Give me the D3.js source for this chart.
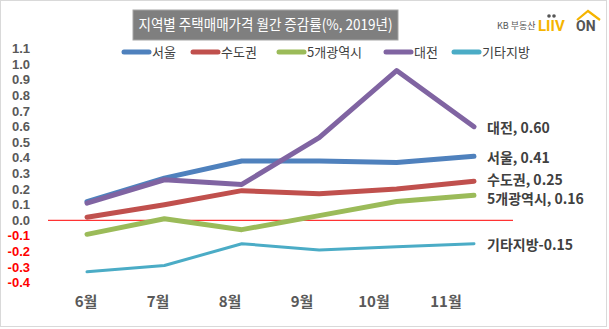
<!DOCTYPE html>
<html>
<head>
<meta charset="utf-8">
<script src="https://cdn.jsdelivr.net/npm/d3@7"></script>
<style>
  html, body { margin: 0; padding: 0; background: #fff; }
  svg { display: block; font-family: "Noto Sans CJK KR", "Noto Sans", sans-serif; }
</style>
</head>
<body>
<div id="chart"></div>
<script>

// months and monthly change (%) per region
var months = ["6월", "7월", "8월", "9월", "10월", "11월"];
var seoul = [0.12, 0.27, 0.38, 0.38, 0.37, 0.41];
var sudogwon = [0.02, 0.10, 0.19, 0.17, 0.20, 0.25];
var metro5 = [-0.09, 0.01, -0.06, 0.03, 0.12, 0.16];
var daejeon = [0.11, 0.26, 0.23, 0.53, 0.96, 0.60];
var others = [-0.33, -0.29, -0.15, -0.19, -0.17, -0.15];

var seriesNames = ["서울", "수도권", "5개광역시", "대전", "기타지방"];
var yTicks = [1.1, 1.0, 0.9, 0.8, 0.7, 0.6, 0.5, 0.4, 0.3, 0.2, 0.1, 0.0, -0.1, -0.2, -0.3, -0.4];

var width = 609, height = 329;

var series = [
  {name: seriesNames[0], values: seoul, color: "#4f81bd", w: 5},
  {name: seriesNames[1], values: sudogwon, color: "#c0504d", w: 5},
  {name: seriesNames[2], values: metro5, color: "#9bbb59", w: 5},
  {name: seriesNames[3], values: daejeon, color: "#8064a2", w: 5},
  {name: seriesNames[4], values: others, color: "#4bacc6", w: 3}
];

var svg = d3.select("#chart").append("svg")
    .attr("width", width)
    .attr("height", height);

// outer frame
svg.append("rect")
    .attr("x", 0.5).attr("y", 0.5)
    .attr("width", 606).attr("height", 326)
    .attr("fill", "#fff")
    .attr("stroke", "#d9d9d9");

// scales
var x = d3.scalePoint().domain(months).range([87, 474]);
var xLab = d3.scalePoint().domain(months).range([86, 446]);
var y = d3.scaleLinear().domain([-0.4, 1.1]).range([282.7, 48.7]);

// y tick labels
svg.selectAll(".ytick")
    .data(yTicks)
  .enter().append("text")
    .attr("class", "ytick")
    .attr("x", 30)
    .attr("y", function(d) { return y(d); })
    .attr("dy", "0.35em")
    .attr("text-anchor", "end")
    .attr("font-family", "'Liberation Sans', Arial, sans-serif")
    .attr("font-size", "13px")
    .attr("font-weight", "bold")
    .attr("fill", function(d) { return d < 0 ? "#ff0000" : "#595959"; })
    .text(function(d) { return d.toFixed(1); });

// month labels
svg.selectAll(".xtick")
    .data(months)
  .enter().append("text")
    .attr("class", "xtick")
    .attr("x", function(d) { return xLab(d); })
    .attr("y", 302)
    .attr("dy", "0.35em")
    .attr("text-anchor", "middle")
    .attr("font-size", "15px")
    .attr("font-weight", "bold")
    .attr("fill", "#595959")
    .text(function(d) { return d; });

// zero line
svg.append("line")
    .attr("x1", 48).attr("x2", 513)
    .attr("y1", y(0)).attr("y2", y(0))
    .attr("stroke", "#ff0000")
    .attr("stroke-width", 1);

var line = d3.line()
    .x(function(d, i) { return x(months[i]); })
    .y(function(d) { return y(d); });

svg.selectAll(".series")
    .data(series)
  .enter().append("path")
    .attr("class", "series")
    .attr("d", function(d) { return line(d.values); })
    .attr("fill", "none")
    .attr("stroke", function(d) { return d.color; })
    .attr("stroke-width", function(d) { return d.w; })
    .attr("stroke-linecap", "round")
    .attr("stroke-linejoin", "round");

// end labels; a crowded pair is spread evenly about its midpoint
var last = months.length - 1;
var minGap = 19;
var ends = series.map(function(s) {
  var v = s.values[last];
  var txt = s.name === "기타지방" ? s.name + v.toFixed(2) : s.name + ", " + v.toFixed(2);
  return {text: txt, ly: y(v) + 1.5};
}).sort(function(a, b) { return a.ly - b.ly; });
for (var i = 1; i < ends.length; i++) {
  var gap = ends[i].ly - ends[i - 1].ly;
  if (gap < minGap) {
    var mid = (ends[i].ly + ends[i - 1].ly) / 2;
    ends[i - 1].ly = mid - minGap / 2;
    ends[i].ly = mid + minGap / 2;
  }
}

svg.selectAll(".endlabel")
    .data(ends)
  .enter().append("text")
    .attr("class", "endlabel")
    .attr("x", 487)
    .attr("y", function(d) { return d.ly; })
    .attr("dy", "0.35em")
    .attr("font-size", "14px")
    .attr("font-weight", "bold")
    .attr("fill", "#404040")
    .text(function(d) { return d.text; });

// title box
var title = svg.append("g");
title.append("rect")
    .attr("x", 133).attr("y", 10)
    .attr("width", 265).attr("height", 30)
    .attr("fill", "#7f7f7f")
    .attr("stroke", "#a6a6a6");
title.append("text")
    .attr("x", 265.5).attr("y", 25)
    .attr("dy", "0.35em")
    .attr("text-anchor", "middle")
    .attr("font-size", "15px")
    .attr("textLength", 254)
    .attr("lengthAdjust", "spacingAndGlyphs")
    .attr("fill", "#fff")
    .text("지역별 주택매매가격 월간 증감률(%, 2019년)");

// legend
var legendX = [122, 191, 277, 384, 452];
var legend = svg.selectAll(".legend")
    .data(series)
  .enter().append("g")
    .attr("class", "legend")
    .attr("transform", function(d, i) { return "translate(" + legendX[i] + ",52)"; });
legend.append("line")
    .attr("x1", 2).attr("x2", 27)
    .attr("stroke", function(d) { return d.color; })
    .attr("stroke-width", 5)
    .attr("stroke-linecap", "round");
legend.append("text")
    .attr("x", 30)
    .attr("dy", "0.35em")
    .attr("font-size", "13px")
    .attr("fill", "#404040")
    .text(function(d) { return d.name; });

// KB 부동산 Liiv ON mark
var logo = svg.append("g");
logo.append("text")
    .attr("x", 497).attr("y", 29)
    .attr("font-size", "9px")
    .attr("fill", "#555")
    .text("KB 부동산");
logo.append("text")
    .attr("x", 538).attr("y", 31)
    .attr("font-size", "15px")
    .attr("font-weight", "bold")
    .attr("font-family", "Roboto, sans-serif")
    .attr("fill", "#f5b400")
    .text("LIIV");
logo.selectAll(".dot")
    .data([549, 554])
  .enter().append("circle")
    .attr("cx", function(d) { return d; })
    .attr("cy", 16)
    .attr("r", 1.8)
    .attr("fill", "#555");
logo.append("text")
    .attr("x", 576).attr("y", 31)
    .attr("font-size", "14px")
    .attr("font-weight", "bold")
    .attr("font-family", "Roboto, sans-serif")
    .attr("fill", "#555")
    .text("ON");
logo.append("path")
    .attr("d", "M577,20 L588,11 L600,20")
    .attr("fill", "none")
    .attr("stroke", "#f5b400")
    .attr("stroke-width", 2.2);

</script>
</body>
</html>
